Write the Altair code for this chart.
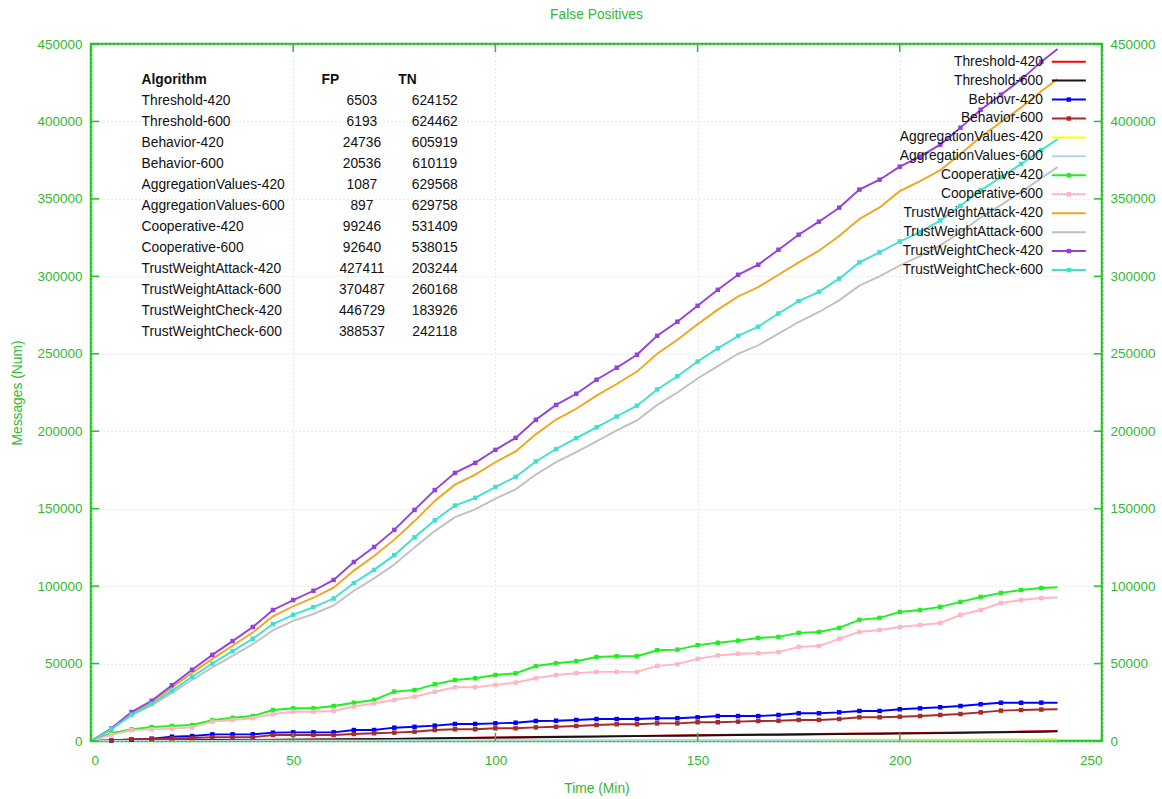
import altair as alt
import pandas as pd

# ---------------- data ----------------
time_min = list(range(0, 240, 5)) + [239]

series_names = [
    "Threshold-420", "Threshold-600", "Behavior-420", "Behavior-600",
    "AggregationValues-420", "AggregationValues-600", "Cooperative-420", "Cooperative-600",
    "TrustWeightAttack-420", "TrustWeightAttack-600", "TrustWeightCheck-420", "TrustWeightCheck-600",
]
legend_labels = [
    "Threshold-420", "Threshold-600", "Behiovr-420", "Behavior-600",
    "AggregationValues-420", "AggregationValues-600", "Cooperative-420", "Cooperative-600",
    "TrustWeightAttack-420", "TrustWeightAttack-600", "TrustWeightCheck-420", "TrustWeightCheck-600",
]
series_colors = [
    "#ff0000", "#151515", "#0000ff", "#a52a2a",
    "#ffff00", "#add8e6", "#22ee22", "#ffb6c1",
    "#f4a41c", "#c0c0c0", "#9440dd", "#40e0d0",
]
marked_series = ["Behavior-420", "Behavior-600", "Cooperative-420", "Cooperative-600",
                 "TrustWeightCheck-420", "TrustWeightCheck-600"]

threshold_420 = [0, 50, 150, 250, 350, 450, 500, 600, 700, 800, 900, 950, 1050, 1150, 1300, 1400,
                 1550, 1750, 1950, 2100, 2300, 2400, 2550, 2700, 2850, 3000, 3150, 3300, 3450, 3600,
                 3750, 3900, 4050, 4150, 4300, 4400, 4550, 4700, 4850, 4950, 5100, 5200, 5350, 5500,
                 5700, 5900, 6100, 6300, 6503]
threshold_600 = [0, 50, 120, 220, 320, 400, 480, 560, 650, 750, 850, 900, 1000, 1100, 1220, 1330,
                 1470, 1650, 1850, 2000, 2180, 2280, 2420, 2560, 2700, 2850, 2990, 3130, 3280, 3420,
                 3560, 3700, 3850, 3950, 4080, 4180, 4320, 4460, 4600, 4700, 4840, 4940, 5080, 5220,
                 5410, 5600, 5800, 5990, 6193]
behavior_420 = [0, 300, 800, 1500, 2800, 3200, 4300, 4300, 4300, 5400, 5600, 5600, 5600, 7100, 7100,
                8600, 9200, 9900, 11000, 11000, 11400, 11800, 12900, 13100, 13600, 14200, 14200, 14200,
                14700, 14700, 15300, 16100, 16100, 16100, 16800, 17900, 17900, 18500, 19400, 19400,
                20500, 21100, 21800, 22600, 23700, 24700, 24700, 24736, 24736]
behavior_600 = [0, 300, 1100, 1300, 1700, 1900, 2400, 2400, 2400, 3900, 3900, 3900, 3900, 4500, 5000,
                5400, 6000, 7100, 7600, 7600, 8200, 8200, 8800, 9200, 9700, 10300, 10800, 10800, 11400,
                11400, 12100, 12100, 12500, 12900, 13100, 13600, 13600, 14200, 15300, 15300, 15700,
                16100, 16800, 17400, 18500, 19600, 20000, 20300, 20536]
aggregation_420 = [0, 10, 30, 50, 70, 90, 110, 130, 150, 170, 190, 210, 230, 250, 270, 290, 310, 330,
                   360, 380, 400, 420, 440, 460, 480, 500, 520, 540, 560, 590, 610, 630, 650, 670, 690,
                   720, 740, 760, 790, 810, 840, 860, 890, 920, 950, 980, 1010, 1050, 1087]
aggregation_600 = [0, 10, 25, 40, 55, 70, 90, 105, 120, 140, 155, 170, 190, 205, 220, 240, 255, 270,
                   295, 310, 330, 345, 360, 380, 395, 410, 430, 445, 460, 485, 500, 515, 535, 550, 565,
                   590, 605, 625, 650, 665, 690, 705, 730, 755, 780, 805, 830, 865, 897]
cooperative_420 = [0, 5000, 7500, 9000, 9700, 10300, 13500, 15000, 16100, 20000, 21100, 21100, 22600,
                   24700, 26500, 31900, 32900, 36600, 39400, 40500, 42600, 43700, 48400, 50200, 51500,
                   54200, 54700, 54700, 58600, 59000, 61900, 63400, 64800, 66500, 67200, 69800, 70400,
                   73000, 78200, 79500, 83300, 84600, 86600, 89800, 93000, 95600, 97500, 98800, 99246]
cooperative_600 = [0, 4000, 7000, 7500, 8000, 8800, 12500, 13600, 14700, 17400, 18900, 18900, 19400,
                   22200, 24400, 26500, 28600, 31800, 34700, 34700, 36200, 37700, 40500, 42600, 43800,
                   44600, 44600, 44600, 48500, 49600, 53000, 55200, 56300, 56700, 57400, 60800, 61300,
                   66000, 70400, 71700, 73600, 74900, 76200, 81400, 84600, 89100, 91000, 92300, 92640]
trust_attack_420 = [0, 7800, 18000, 25000, 34500, 44000, 53000, 61500, 70000, 80500, 87000, 92500,
                    99000, 110000, 119500, 130000, 142000, 155000, 165500, 172000, 180000, 187000,
                    198000, 207500, 214500, 223000, 230500, 238500, 250000, 259000, 269000, 278500,
                    287000, 293000, 301000, 309000, 316500, 326000, 337000, 344500, 355000, 361500,
                    368500, 379000, 390000, 399500, 409000, 419500, 427411]
trust_attack_600 = [0, 7400, 16500, 23000, 31000, 39500, 47500, 55000, 62500, 71500, 77500, 82000,
                    87500, 97000, 105000, 114000, 125000, 135500, 144500, 149500, 156500, 162500,
                    172000, 180000, 186500, 193500, 200500, 207000, 217000, 225000, 234000, 242000,
                    250000, 255500, 263000, 270500, 277000, 284500, 294000, 300000, 307000, 313000,
                    320000, 328500, 338000, 346000, 354500, 363500, 370487]
trust_check_420 = [0, 8000, 18700, 26000, 36000, 46000, 55600, 64500, 73600, 84600, 91000, 97000,
                   104000, 115600, 125300, 136300, 149200, 162000, 173100, 179600, 188000, 195700,
                   207400, 217000, 224200, 233200, 241000, 249400, 261600, 270700, 281000, 291300,
                   301000, 307500, 317200, 326900, 335300, 344300, 356000, 362400, 370800, 377300,
                   385000, 396000, 407600, 417300, 427000, 438600, 446729]
trust_check_600 = [0, 7600, 17000, 24000, 32500, 41500, 50000, 58000, 66000, 75500, 81500, 86500,
                   92000, 102000, 110500, 120000, 131500, 142500, 152000, 157000, 164000, 170500,
                   180500, 188500, 195500, 202500, 209500, 216500, 227000, 235500, 245000, 253500,
                   261500, 267500, 276000, 284000, 290000, 298500, 309000, 315500, 322500, 328500,
                   336000, 345500, 355500, 364000, 372500, 381500, 388537]

table_alg = ["Threshold-420", "Threshold-600", "Behavior-420", "Behavior-600",
             "AggregationValues-420", "AggregationValues-600", "Cooperative-420", "Cooperative-600",
             "TrustWeightAttack-420", "TrustWeightAttack-600", "TrustWeightCheck-420", "TrustWeightCheck-600"]
table_fp = ["6503", "6193", "24736", "20536", "1087", "897", "99246", "92640",
            "427411", "370487", "446729", "388537"]
table_tn = ["624152", "624462", "605919", "610119", "629568", "629758", "531409", "538015",
            "203244", "260168", "183926", "242118"]
table_header = ["Algorithm", "FP", "TN"]

x_ticks = [0, 50, 100, 150, 200, 250]
y_ticks = [0, 50000, 100000, 150000, 200000, 250000, 300000, 350000, 400000, 450000]

# ---------------- style ----------------
FRAME_GREEN = "#22c322"
TEXT_GREEN = "#33b833"
FONT = "Liberation Sans, Arial, sans-serif"
TXT = 13.8
GRID = "#d4d4d4"

all_values = [threshold_420, threshold_600, behavior_420, behavior_600, aggregation_420,
              aggregation_600, cooperative_420, cooperative_600, trust_attack_420,
              trust_attack_600, trust_check_420, trust_check_600]
rows = []
for order, (name, vals) in enumerate(zip(series_names, all_values)):
    for t, v in zip(time_min, vals):
        rows.append({"series": name, "time": t, "messages": v, "ord": order})
df = pd.DataFrame(rows)

xs = alt.Scale(domain=[0, 250], nice=False, zero=False)
ys = alt.Scale(domain=[0, 450000], nice=False)
cs = alt.Scale(domain=series_names, range=series_colors)
color_enc = alt.Color("series:N", scale=cs, legend=None)

x_axis = alt.Axis(values=x_ticks, orient="bottom", grid=True, gridDash=[1, 3], gridColor=GRID,
                  domain=False, ticks=False, labelPadding=12, labelColor=TEXT_GREEN, labelFontSize=13.5,
                  labelFont=FONT, titleColor=TEXT_GREEN, titleFont=FONT, titleFontSize=TXT,
                  titleFontWeight="normal", titleX=505.5, titleY=47, titleBaseline="middle",
                  titleAlign="center")
y_axis_left = alt.Axis(values=y_ticks, format="d", orient="left", grid=True, gridDash=[1, 3],
                       gridColor=GRID, domain=False, ticks=False, labelPadding=9,
                       labelColor=TEXT_GREEN, labelFontSize=13.5, labelFont=FONT, titleColor=TEXT_GREEN,
                       titleFont=FONT, titleFontSize=TXT, titleFontWeight="normal", titleX=-74,
                       titleY=348.5, titleAngle=270, titleBaseline="middle", titleAlign="center")
y_axis_right = alt.Axis(values=y_ticks, format="d", orient="right", grid=False, domain=False,
                        ticks=False, labelPadding=8, labelColor=TEXT_GREEN, labelFontSize=13.5, labelFont=FONT)

lines = alt.Chart(df).mark_line(strokeWidth=1.9, clip=True).encode(
    x=alt.X("time:Q", scale=xs, axis=x_axis, title="Time (Min)"),
    y=alt.Y("messages:Q", scale=ys, axis=y_axis_left, title="Messages (Num)"),
    color=color_enc,
    detail="series:N",
    order=alt.Order("time:Q"),
)

points = alt.Chart(df).transform_filter(
    alt.FieldOneOfPredicate(field="series", oneOf=marked_series)
).transform_filter("datum.time % 5 == 0 && datum.time > 0").mark_point(
    shape="square", filled=True, size=20, opacity=1
).encode(
    x=alt.X("time:Q", scale=xs, axis=None),
    y=alt.Y("messages:Q", scale=ys, axis=None),
    color=color_enc,
)

# inward tick marks (gnuplot style)
xt = pd.DataFrame({"t": x_ticks})
yt = pd.DataFrame({"v": y_ticks})
tick_color = FRAME_GREEN
bottom_ticks = alt.Chart(xt).transform_calculate(a="0", b="5200").mark_rule(
    color=tick_color, strokeWidth=1.5).encode(
    x=alt.X("t:Q", scale=xs, axis=None), y=alt.Y("a:Q", scale=ys, axis=None), y2="b:Q")
top_ticks = alt.Chart(xt).transform_calculate(a="450000", b="444800").mark_rule(
    color=tick_color, strokeWidth=1.5).encode(
    x=alt.X("t:Q", scale=xs, axis=None), y=alt.Y("a:Q", scale=ys, axis=None), y2="b:Q")
left_ticks = alt.Chart(yt).transform_calculate(a="0", b="2").mark_rule(
    color=tick_color, strokeWidth=1.5).encode(
    y=alt.Y("v:Q", scale=ys, axis=None), x=alt.X("a:Q", scale=xs, axis=None), x2="b:Q")
right_ticks = alt.Chart(yt).transform_calculate(a="248", b="250").mark_rule(
    color=tick_color, strokeWidth=1.5).encode(
    y=alt.Y("v:Q", scale=ys, axis=y_axis_right, title=None), x=alt.X("a:Q", scale=xs, axis=None), x2="b:Q")

# key (gnuplot style: label then sample)
leg = pd.DataFrame({"series": series_names, "label": legend_labels, "row": list(range(len(series_names)))})
leg_base = alt.Chart(leg).transform_calculate(
    ly="438600 - datum.row * 12230", lx="235.4", l1="237.6", l2="246.0", lm="241.8")
leg_text = leg_base.mark_text(align="right", baseline="middle", font=FONT, fontSize=TXT,
                              color="#111111").encode(
    x=alt.X("lx:Q", scale=xs, axis=None), y=alt.Y("ly:Q", scale=ys, axis=None), text="label:N")
leg_line = leg_base.mark_rule(strokeWidth=2).encode(
    x=alt.X("l1:Q", scale=xs, axis=None), x2="l2:Q", y=alt.Y("ly:Q", scale=ys, axis=None), color=color_enc)
leg_mark = leg_base.transform_filter(
    alt.FieldOneOfPredicate(field="series", oneOf=marked_series)).mark_point(
    shape="square", filled=True, size=20, opacity=1).encode(
    x=alt.X("lm:Q", scale=xs, axis=None), y=alt.Y("ly:Q", scale=ys, axis=None), color=color_enc)

# table of FP / TN
tbl = pd.DataFrame({"alg": table_alg, "fp": table_fp, "tn": table_tn,
                    "row": list(range(1, len(table_alg) + 1))})
tbl_base = alt.Chart(tbl).transform_calculate(ty="426800 - datum.row * 13540", ax="12.5", fx="67.0", nx="85.0")
tbl_alg = tbl_base.mark_text(align="left", baseline="middle", font=FONT, fontSize=TXT, color="#111111").encode(
    x=alt.X("ax:Q", scale=xs, axis=None), y=alt.Y("ty:Q", scale=ys, axis=None), text="alg:N")
tbl_fp = tbl_base.mark_text(align="center", baseline="middle", font=FONT, fontSize=TXT, color="#111111").encode(
    x=alt.X("fx:Q", scale=xs, axis=None), y=alt.Y("ty:Q", scale=ys, axis=None), text="fp:N")
tbl_tn = tbl_base.mark_text(align="center", baseline="middle", font=FONT, fontSize=TXT, color="#111111").encode(
    x=alt.X("nx:Q", scale=xs, axis=None), y=alt.Y("ty:Q", scale=ys, axis=None), text="tn:N")
hdr = pd.DataFrame({"h": table_header, "col": [0, 1, 2]})
tbl_hdr = alt.Chart(hdr).transform_calculate(
    ty="426800", hx="datum.col == 0 ? 12.5 : (datum.col == 1 ? 57.0 : 76.0)").mark_text(
    align="left", baseline="middle", font=FONT, fontSize=TXT, fontWeight="bold", color="#111111").encode(
    x=alt.X("hx:Q", scale=xs, axis=None), y=alt.Y("ty:Q", scale=ys, axis=None), text="h:N")

chart = alt.layer(
    lines, points, bottom_ticks, top_ticks, left_ticks, right_ticks,
    tbl_hdr, tbl_alg, tbl_fp, tbl_tn, leg_line, leg_mark, leg_text,
).resolve_axis(x="independent", y="independent").properties(
    width=1011, height=697,
    autosize=alt.AutoSizeParams(type="none"),
    padding={"left": 91, "top": 44, "right": 60, "bottom": 58},
    background="white",
    title=alt.TitleParams("False Positives", font=FONT, fontSize=TXT, fontWeight="normal",
                          color=TEXT_GREEN, offset=15, anchor="middle"),
).configure_view(stroke=FRAME_GREEN, strokeWidth=2.5)

chart.save("out.html", embed_options={"renderer": "svg", "actions": False})
